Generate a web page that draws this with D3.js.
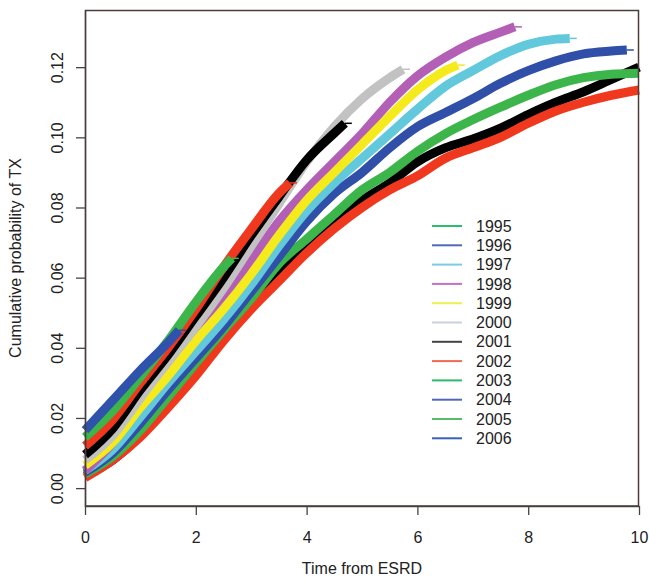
<!DOCTYPE html>
<html>
<head>
<meta charset="utf-8">
<script src="https://cdn.jsdelivr.net/npm/d3@7"></script>
<style>
  body { margin: 0; background: #fff; }
  text { font-family: "Liberation Sans", Arial, sans-serif; fill: #222; }
</style>
</head>
<body>
<svg id="chart" width="649" height="581"></svg>
<script>
// cohort years, as in the legend
const years = [1995, 1996, 1997, 1998, 1999, 2000, 2001, 2002, 2003, 2004, 2005, 2006];
const legendColors = ['#2dbb6e', '#5168b8', '#79cde0', '#c070c8', '#eeee50', '#c8d0d8',
                      '#444444', '#f06a50', '#2dbb6e', '#5168b8', '#58bb6a', '#3a62b8'];
// colours the curves are actually drawn with
const curveColors = ['#000000', '#f0381e', '#3cb54a', '#2f4fa8', '#62c8dc', '#b45fb6',
                     '#f4ea1c', '#c2c2c2', '#000000', '#f0381e', '#3cb54a', '#2f52ac'];
// length of follow-up per cohort (years)
const endTimes = [10, 10, 10, 9.78, 8.75, 7.76, 6.73, 5.74, 4.69, 3.7, 2.65, 1.7];
// time grid the values are read at (plus the end time of each curve)
const timeGrid = [0, 0.5, 1, 1.5, 2, 2.5, 3, 3.5, 4, 4.5, 5, 5.5, 6, 6.5, 7, 7.5, 8, 8.5, 9, 9.5, 10];

const cum1995 = [0.0035, 0.008, 0.015, 0.0235, 0.0325, 0.0425, 0.052, 0.061, 0.069, 0.076, 0.082,
                 0.087, 0.093, 0.097, 0.0995, 0.1026, 0.1065, 0.110, 0.113, 0.1165, 0.120];
const cum1996 = [0.003, 0.008, 0.0146, 0.023, 0.032, 0.042, 0.051, 0.059, 0.067, 0.074, 0.080,
                 0.085, 0.089, 0.094, 0.097, 0.100, 0.104, 0.1075, 0.110, 0.112, 0.1135];
const cum1997 = [0.004, 0.009, 0.0165, 0.026, 0.0356, 0.045, 0.054, 0.064, 0.071, 0.078, 0.085,
                 0.090, 0.096, 0.101, 0.105, 0.1086, 0.112, 0.115, 0.117, 0.118, 0.1183];
const cum1998 = [0.0045, 0.010, 0.0185, 0.028, 0.037, 0.046, 0.056, 0.066, 0.076, 0.084, 0.090,
                 0.097, 0.103, 0.107, 0.111, 0.1154, 0.119, 0.1218, 0.1238, 0.1246, 0.1249];
const cum1999 = [0.005, 0.011, 0.0203, 0.030, 0.039, 0.048, 0.058, 0.069, 0.079, 0.087, 0.094,
                 0.101, 0.108, 0.1145, 0.119, 0.1233, 0.1265, 0.128, 0.1282];
const cum2000 = [0.005, 0.013, 0.024, 0.034, 0.044, 0.054, 0.065, 0.076, 0.085, 0.093, 0.101,
                 0.110, 0.1175, 0.1228, 0.127, 0.130, 0.1315];
const cum2001 = [0.0065, 0.013, 0.023, 0.032, 0.042, 0.051, 0.061, 0.072, 0.082, 0.090, 0.098,
                 0.106, 0.1135, 0.119, 0.1206];
const cum2002 = [0.008, 0.015, 0.0257, 0.036, 0.046, 0.057, 0.069, 0.081, 0.093, 0.103, 0.111,
                 0.117, 0.1194];
const cum2003 = [0.0095, 0.017, 0.028, 0.038, 0.049, 0.060, 0.072, 0.083, 0.0935, 0.1012, 0.104];
const cum2004 = [0.012, 0.0195, 0.030, 0.040, 0.051, 0.063, 0.0738, 0.084, 0.087];
const cum2005 = [0.0145, 0.022, 0.0317, 0.042, 0.053, 0.063, 0.0655];
const cum2006 = [0.0165, 0.025, 0.0336, 0.0415, 0.045];

const xTicks = [0, 2, 4, 6, 8, 10];
const yTicks = [0, 0.02, 0.04, 0.06, 0.08, 0.10, 0.12];

const seriesValues = [cum1995, cum1996, cum1997, cum1998, cum1999, cum2000,
                      cum2001, cum2002, cum2003, cum2004, cum2005, cum2006];

const series = years.map((year, i) => {
  const times = timeGrid.filter(t => t < endTimes[i]).concat([endTimes[i]]);
  return {
    year: year,
    color: curveColors[i],
    points: times.map((t, j) => ({ t: t, v: seriesValues[i][j] }))
  };
});

const svg = d3.select('#chart');
const margin = { top: 10, right: 10, bottom: 75, left: 85 };
const plotW = +svg.attr('width') - margin.left - margin.right;
const plotH = +svg.attr('height') - margin.top - margin.bottom;
const g = svg.append('g').attr('transform', `translate(${margin.left},${margin.top})`);

const x = d3.scaleLinear().domain([0, 10]).range([0, plotW]);
const y = d3.scaleLinear().domain([-0.0051, 0.1363]).range([plotH, 0]);

const line = d3.line()
  .x(d => x(d.t))
  .y(d => y(d.v))
  .curve(d3.curveMonotoneX);

// curves (thick bands of censoring marks)
series.forEach(s => {
  g.append('path')
    .datum(s.points)
    .attr('fill', 'none')
    .attr('stroke', s.color)
    .attr('stroke-width', 9)
    .attr('stroke-linejoin', 'round')
    .attr('d', line);

  // thin tail at the end of follow-up
  const last = s.points[s.points.length - 1];
  const ex = x(last.t), ey = y(last.v);
  g.append('line')
    .attr('x1', ex).attr('x2', Math.min(ex + 7, plotW))
    .attr('y1', ey).attr('y2', ey)
    .attr('stroke', s.color)
    .attr('stroke-width', 1.5);
});

// x axis
const xAxis = g.append('g')
  .attr('transform', `translate(0,${plotH})`)
  .call(d3.axisBottom(x).tickValues(xTicks).tickFormat(d3.format('d'))
    .tickSize(9).tickSizeOuter(0).tickPadding(17));
xAxis.select('.domain').attr('stroke', '#444').attr('stroke-width', 1.3);
xAxis.selectAll('line').attr('stroke', '#444').attr('stroke-width', 1.3);
xAxis.selectAll('text').attr('font-size', 16).style('fill', '#222');

// y axis
const yAxis = g.append('g')
  .call(d3.axisLeft(y).tickValues(yTicks).tickFormat(d3.format('.2f'))
    .tickSize(9).tickSizeOuter(0));
yAxis.select('.domain').attr('stroke', '#444').attr('stroke-width', 1.3);
yAxis.selectAll('line').attr('stroke', '#444').attr('stroke-width', 1.3);
yAxis.selectAll('text')
  .attr('font-size', 16)
  .style('fill', '#222')
  .attr('x', 0)
  .attr('dy', 0)
  .attr('text-anchor', 'middle')
  .attr('transform', 'translate(-22,0) rotate(-90)');

// box around the plot region
svg.append('rect')
  .attr('x', margin.left + 0.5)
  .attr('y', margin.top + 0.5)
  .attr('width', plotW - 1)
  .attr('height', plotH - 0.5)
  .style('fill', 'none')
  .style('stroke', '#4a3c3a')
  .style('stroke-width', '1.5px');

// axis titles
svg.append('text')
  .attr('x', margin.left + plotW / 2)
  .attr('y', 574)
  .attr('text-anchor', 'middle')
  .attr('font-size', 16)
  .text('Time from ESRD');

svg.append('text')
  .attr('transform', `translate(21,${margin.top + plotH / 2}) rotate(-90)`)
  .attr('text-anchor', 'middle')
  .attr('font-size', 16)
  .text('Cumulative probability of TX');

// legend
const legend = svg.append('g').attr('transform', 'translate(432,226)');
years.forEach((year, i) => {
  const row = legend.append('g').attr('transform', `translate(0,${i * 19.3})`);
  row.append('line')
    .attr('x1', 0).attr('x2', 30)
    .attr('stroke', legendColors[i])
    .attr('stroke-width', 2);
  row.append('text')
    .attr('x', 44)
    .attr('dy', '0.35em')
    .attr('font-size', 16)
    .text(year);
});
</script>
</body>
</html>
